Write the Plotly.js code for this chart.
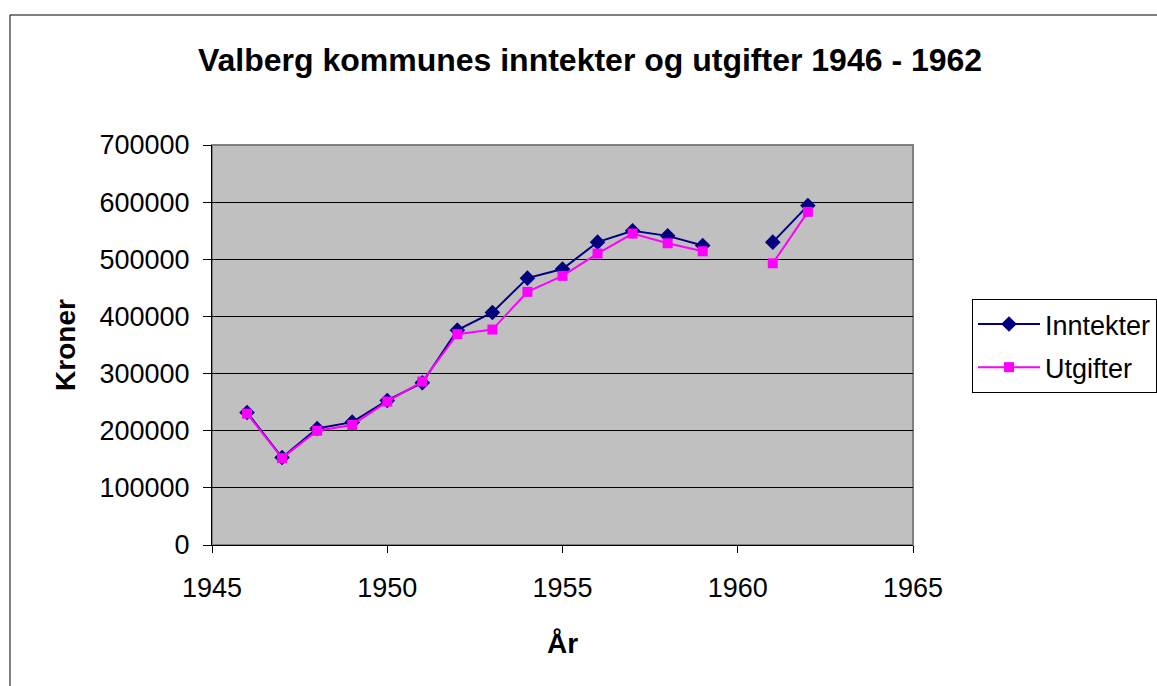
<!DOCTYPE html>
<html><head><meta charset="utf-8">
<script src="https://cdn.plot.ly/plotly-3.0.1.min.js"></script>
<style>html,body{margin:0;padding:0;background:#fff}#c{width:1157px;height:686px}</style>
</head><body><div id="c"></div>
<script>
const years = [1946,1947,1948,1949,1950,1951,1952,1953,1954,1955,1956,1957,1958,1959,1960,1961,1962];
const inntekter = [232000,153000,204000,215000,253000,284000,376000,407000,467000,483000,530000,550000,541000,524000,null,530000,594000];
const utgifter = [230000,152000,200000,210000,251000,286000,369000,377000,443000,471000,510000,545000,528000,514000,null,493000,583000];
const yTicks = [0,100000,200000,300000,400000,500000,600000,700000];
const xTicks = [1945,1950,1955,1960,1965];

const font = 'Liberation Sans, Arial, sans-serif';
const traces = [
 {x: years, y: inntekter, name: 'Inntekter', legendgroup: 'a', type: 'scatter', mode: 'lines+markers', connectgaps: false,
  line: {color: '#000080', width: 2}, marker: {symbol: 'diamond', size: 12, color: '#000080'}},
 {x: years, y: utgifter, name: 'Utgifter', legendgroup: 'b', type: 'scatter', mode: 'lines+markers', connectgaps: false,
  line: {color: '#FF00FF', width: 2}, marker: {symbol: 'square', size: 10, color: '#FF00FF'}}
];
const layout = {
 width: 1157, height: 686,
 margin: {l: 212, r: 244, t: 145, b: 141},
 paper_bgcolor: '#ffffff', plot_bgcolor: '#C0C0C0',
 font: {family: font, size: 27, color: '#000'},
 title: {text: '<b>Valberg kommunes inntekter og utgifter 1946 - 1962</b>', x: 590/1157, xanchor: 'center', xref: 'container', y: 1-60/686, yanchor: 'middle', yref: 'container', font: {family: font, size: 32, color: '#000'}},
 xaxis: {range: [1945, 1965], tickvals: xTicks, ticktext: xTicks.map(String), showgrid: false, zeroline: false,
  showline: true, linecolor: '#000', linewidth: 1, ticks: 'outside', ticklen: 7, tickcolor: '#000', ticklabelstandoff: 12,
  tickfont: {size: 27}, title: {text: '<b>År</b>', font: {size: 28}, standoff: 30}},
 yaxis: {range: [0, 700000], tickvals: yTicks, ticktext: yTicks.map(String), showgrid: true, gridcolor: '#000', gridwidth: 1,
  zeroline: false, showline: true, linecolor: '#000', linewidth: 1, ticks: 'outside', ticklen: 8, tickcolor: '#000', ticklabelstandoff: 8,
  tickfont: {size: 27}, title: {text: '<b>Kroner</b>', font: {size: 28}, standoff: 15}},
 legend: {x: 972/1157, xref: 'container', xanchor: 'left', y: 1-299/686, yref: 'container', yanchor: 'top',
  bgcolor: '#fff', bordercolor: '#000', borderwidth: 1, font: {size: 27}, tracegroupgap: 5, itemwidth: 62, entrywidth: 260},
 showlegend: true,
 shapes: [
  {type: 'rect', xref: 'paper', yref: 'paper', x0: 0, x1: 1, y0: 0, y1: 1, line: {color: '#808080', width: 2}, layer: 'below'},
  {type: 'rect', xref: 'paper', yref: 'paper', x0: (10-212)/701, x1: 1.4, y0: -0.5, y1: (545-15)/400, line: {color: '#000', width: 1}, fillcolor: 'rgba(0,0,0,0)', layer: 'below'}
 ]
};
Plotly.newPlot('c', traces, layout, {displayModeBar: false, staticPlot: true});
</script></body></html>
